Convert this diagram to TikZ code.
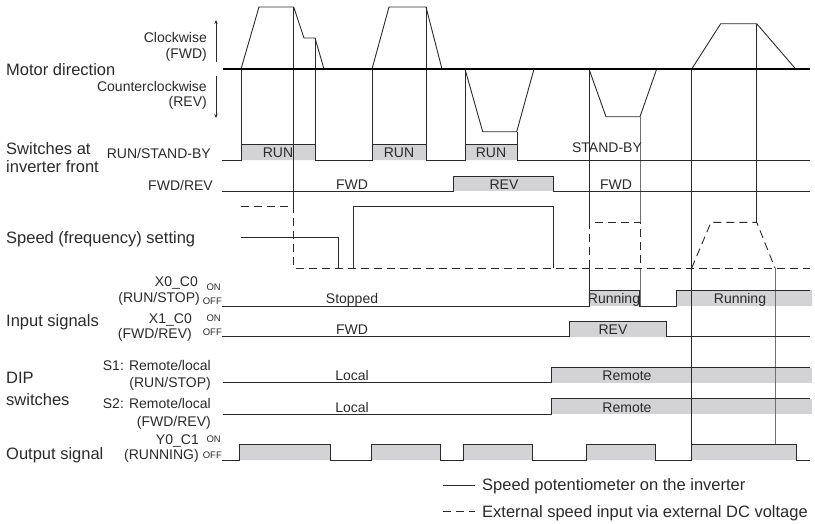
\documentclass[tikz,border=0pt]{standalone}
\usepackage{fontspec}
\setmainfont{Liberation Sans}
\usetikzlibrary{arrows.meta}
\definecolor{lc}{HTML}{2A2A2A}
\definecolor{lg}{HTML}{707070}
\definecolor{gf}{HTML}{D3D3D5}
\newcommand\lbig{\fontsize{16.5}{18}\selectfont}
\newcommand\lsm{\fontsize{14}{16}\selectfont}
\newcommand\ltn{\fontsize{9.5}{11}\selectfont}
\tikzset{
  lblbig/.style={font=\lbig, inner sep=0pt, text height=11.8pt, text depth=0pt, text=lc},
  lblsm/.style={font=\lsm, inner sep=0pt, text height=10pt, text depth=0pt, text=lc},
  lbltn/.style={font=\ltn, inner sep=0pt, text height=6.8pt, text depth=0pt, text=lc},
  sig/.style={draw=lc, line width=0.9pt, line join=miter},
  tline/.style={draw=lc, line width=0.8pt},
  tlineg/.style={draw=lg, line width=0.8pt},
  dsh/.style={draw=lc, line width=0.9pt, dash pattern=on 8pt off 5pt},
  axisline/.style={draw=black, line width=1.9pt},
  arr/.style={draw=lc, line width=0.8pt, -{Stealth[length=4pt,width=3.2pt]}}
}
\begin{document}
\begin{tikzpicture}[x=1pt,y=-1pt]
\useasboundingbox (0,0) rectangle (815,523);
% ---------- gray fills ----------
\fill[gf] (241,144) rectangle (315,160) (372,144) rectangle (426,160) (465,144) rectangle (517,160);
\fill[gf] (453,176.5) rectangle (553,191);
\fill[gf] (589,290) rectangle (639.3,306) (676.7,290) rectangle (812,306);
\fill[gf] (569,321.7) rectangle (666.7,336.7);
\fill[gf] (551.7,367.7) rectangle (812,382.7);
\fill[gf] (551.7,398.7) rectangle (812,414);
\fill[gf] (239.3,444.3) rectangle (330,460) (371,444.3) rectangle (440,460)
  (463.3,444.3) rectangle (532,460) (586.7,444.3) rectangle (655.7,460)
  (691.7,444.3) rectangle (796,460);
% ---------- timing verticals ----------
\draw[tline] (241,69) -- (241,160);
\draw[tline] (293.7,7) -- (293.7,206);
\draw[tline] (315,38) -- (315,160);
\draw[tline] (372,69) -- (372,160);
\draw[tline] (426,7) -- (426,160);
\draw[tline] (465,69) -- (465,160);
\draw[tline] (517,132) -- (517,160);
\draw[tline] (589,69) -- (589,222) (589,268) -- (589,290);
\draw[tlineg] (640,117) -- (640,222) (640,268) -- (640,306);
\draw[tline] (691.7,69) -- (691.7,460);
\draw[tline] (756.7,23.7) -- (756.7,222);
\draw[tlineg] (775,268) -- (775,444.3);
% ---------- motor direction ----------
\draw[sig] (241,69) -- (259,7) -- (293.7,7) -- (304,38) -- (315,38) -- (324,69);
\draw[sig] (372,69) -- (389,7) -- (426,7) -- (442,69);
\draw[sig] (465,69) -- (482.7,131.7) -- (516.7,131.7) -- (534,69);
\draw[sig] (589,69) -- (606,116.7) -- (640,116.7) -- (656.7,69);
\draw[sig] (691.7,69) -- (720.7,23.7) -- (756.7,23.7) -- (795.7,69);
\draw[axisline] (223,69) -- (810,69);
\coordinate (au0) at (216,62); \coordinate (au1) at (216,20);
\coordinate (ad0) at (216,76); \coordinate (ad1) at (216,118);
\draw[arr] (au0) -- (au1);
\draw[arr] (ad0) -- (ad1);
% ---------- RUN/STAND-BY ----------
\draw[sig] (222,160) -- (241,160) -- (241,144) -- (315,144) -- (315,160) -- (372,160) -- (372,144)
  -- (426,144) -- (426,160) -- (465,160) -- (465,144) -- (517,144) -- (517,160) -- (810,160);
% ---------- FWD/REV ----------
\draw[sig] (222,191) -- (453,191) -- (453,176.5) -- (553,176.5) -- (553,191) -- (810,191);
% ---------- speed setting ----------
\draw[dsh] (241,206) -- (293.7,206) -- (293.7,268) -- (810,268);
\draw[sig] (241,237.3) -- (338,237.3) -- (338,268);
\draw[sig] (353,268) -- (353,206.7) -- (553,206.7) -- (553,268);
\draw[dsh] (589,268) -- (589,222) -- (640,222) -- (640,268);
\draw[dsh] (691.7,268) -- (711,222.3) -- (756.7,222.3) -- (775,268);
% ---------- X0_C0 ----------
\draw[sig] (222,306) -- (589,306) -- (589,290) -- (639.3,290) -- (639.3,306) -- (676.7,306) -- (676.7,290) -- (810,290);
% ---------- X1_C0 ----------
\draw[sig] (222,336.7) -- (569,336.7) -- (569,321.7) -- (666.7,321.7) -- (666.7,336.7) -- (810,336.7);
% ---------- S1, S2 ----------
\draw[sig] (222.7,382.7) -- (551.7,382.7) -- (551.7,367.7) -- (810,367.7);
\draw[sig] (222.7,414) -- (551.7,414) -- (551.7,398.7) -- (810,398.7);
% ---------- Y0_C1 ----------
\draw[sig] (222,460) -- (239.3,460) -- (239.3,444.3) -- (330,444.3) -- (330,460) -- (371,460) -- (371,444.3)
  -- (440,444.3) -- (440,460) -- (463.3,460) -- (463.3,444.3) -- (532,444.3) -- (532,460) -- (586.7,460)
  -- (586.7,444.3) -- (655.7,444.3) -- (655.7,460) -- (691.7,460) -- (691.7,444.3) -- (796,444.3)
  -- (796,460) -- (810,460);
% ---------- main labels ----------
\node[lblbig, anchor=west] (md) at (6,70) {Motor direction};
\node[lblbig, anchor=west] (sw1) at (6,149) {Switches at};
\node[lblbig, anchor=west] (sw2) at (6,167) {inverter front};
\node[lblbig, anchor=west] (ss) at (6,238) {Speed (frequency) setting};
\node[lblbig, anchor=west] (is) at (6,321) {Input signals};
\node[lblbig, anchor=west] (dip1) at (6,378) {DIP};
\node[lblbig, anchor=west] (dip2) at (6,400) {switches};
\node[lblbig, anchor=west] (os) at (6,454) {Output signal};
% ---------- small labels ----------
\node[lblsm, anchor=east] (cw) at (207,37) {Clockwise};
\node[lblsm, anchor=east] (cwf) at (207,53) {(FWD)};
\node[lblsm, anchor=east] (ccw) at (207,86) {Counterclockwise};
\node[lblsm, anchor=east] (ccwr) at (207,101) {(REV)};
\node[lblsm, anchor=east] (rsb) at (211,153) {RUN/STAND-BY};
\node[lblsm, anchor=east] (fr) at (213,185) {FWD/REV};
\node[lblsm, anchor=east] (x0) at (198,281) {X0\_C0};
\node[lblsm, anchor=east] (x0b) at (200,297) {(RUN/STOP)};
\node[lblsm, anchor=east] (x1) at (192,318) {X1\_C0};
\node[lblsm, anchor=east] (x1b) at (192,333) {(FWD/REV)};
\node[lblsm, anchor=east] (s1) at (211,365) {S1: Remote/local};
\node[lblsm, anchor=east] (s1b) at (211,382) {(RUN/STOP)};
\node[lblsm, anchor=east] (s2) at (211,403) {S2: Remote/local};
\node[lblsm, anchor=east] (s2b) at (211,421) {(FWD/REV)};
\node[lblsm, anchor=east] (y0) at (199,439) {Y0\_C1};
\node[lblsm, anchor=east] (y0b) at (199,454) {(RUNNING)};
\node[lbltn, anchor=east] (on0) at (221,287) {ON};
\node[lbltn, anchor=east] (off0) at (222,301) {OFF};
\node[lbltn, anchor=east] (on1) at (221,318) {ON};
\node[lbltn, anchor=east] (off1) at (222,332) {OFF};
\node[lbltn, anchor=east] (on2) at (221,439) {ON};
\node[lbltn, anchor=east] (off2) at (222,455) {OFF};
% ---------- signal labels ----------
\node[lblsm] (r1) at (278,152) {RUN};
\node[lblsm] (r2) at (399,152) {RUN};
\node[lblsm] (r3) at (491,152) {RUN};
\node[lblsm] (sb) at (607,147) {STAND-BY};
\node[lblsm] (f1) at (352,184) {FWD};
\node[lblsm] (rv1) at (504,184) {REV};
\node[lblsm] (f2) at (616,184) {FWD};
\node[lblsm] (st) at (352,298) {Stopped};
\node[lblsm] (ru1) at (614,298) {Running};
\node[lblsm] (ru2) at (740,298) {Running};
\node[lblsm] (f3) at (352,329) {FWD};
\node[lblsm] (rv2) at (613,329) {REV};
\node[lblsm] (lo1) at (352,375) {Local};
\node[lblsm] (re1) at (627,375) {Remote};
\node[lblsm] (lo2) at (352,407) {Local};
\node[lblsm] (re2) at (627,407) {Remote};
% ---------- legend ----------
\coordinate (lg1a) at (443,485); \coordinate (lg1b) at (475,485);
\coordinate (lg2a) at (443,511.7); \coordinate (lg2b) at (475,511.7);
\draw[sig] (lg1a) -- (lg1b);
\draw[dsh] (lg2a) -- (lg2b);
\node[lblbig, anchor=west] (leg1) at (482,485) {Speed potentiometer on the inverter};
\node[lblbig, anchor=west] (leg2) at (482,512) {External speed input via external DC voltage};
\end{tikzpicture}
\end{document}
